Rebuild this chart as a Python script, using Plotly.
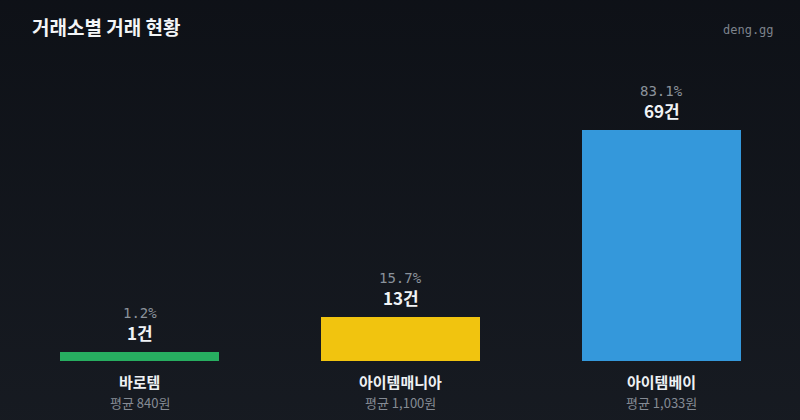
import base64

import plotly.graph_objects as go

# data
exchanges = ["바로템", "아이템매니아", "아이템베이"]
counts = [1, 13, 69]
shares = [1.2, 15.7, 83.1]
avg_prices = [840, 1100, 1033]
colors = ["#27ae60", "#f1c40f", "#3498db"]

TITLE = "거래소별 거래 현황"
SOURCE = "deng.gg"

KR = "Noto Sans CJK KR"
MONO = "DejaVu Sans Mono"
MIN_BAR = 2.7  # tiny counts still get a visible sliver


def gradient_uri():
    svg = (
        '<svg xmlns="http://www.w3.org/2000/svg" width="10" height="100" preserveAspectRatio="none">'
        '<defs><linearGradient id="g" x1="0" y1="0" x2="0" y2="1">'
        '<stop offset="0" stop-color="#0d1016"/><stop offset="1" stop-color="#171b22"/>'
        '</linearGradient></defs><rect width="10" height="100" fill="url(#g)"/></svg>'
    )
    return "data:image/svg+xml;base64," + base64.b64encode(svg.encode()).decode()


def main():
    heights = [max(c, MIN_BAR) for c in counts]

    fig = go.Figure(
        go.Bar(
            x=exchanges,
            y=heights,
            marker=dict(color=colors, line=dict(width=0)),
            width=0.61,
            hoverinfo="skip",
        )
    )

    for name, h, c, s, p in zip(exchanges, heights, counts, shares, avg_prices):
        fig.add_annotation(x=name, y=h, text=f"{c}건", showarrow=False,
                           yanchor="bottom", yshift=5,
                           font=dict(family=KR, size=17, color="#f0f3f6", weight="bold"))
        fig.add_annotation(x=name, y=h, text=f"{s}%", showarrow=False,
                           yanchor="bottom", yshift=29,
                           font=dict(family=MONO, size=14, color="#8b929b"))
        fig.add_annotation(x=name, y=0, text=name, showarrow=False,
                           yanchor="top", yshift=-8,
                           font=dict(family=KR, size=15, color="#eef1f4", weight="bold"))
        fig.add_annotation(x=name, y=0, text=f"평균 {p:,}원", showarrow=False,
                           yanchor="top", yshift=-30,
                           font=dict(family=KR, size=13, color="#858b94"))

    fig.add_annotation(xref="paper", yref="paper", x=0, y=1, xanchor="left", yanchor="middle",
                       xshift=21, yshift=67, text=TITLE, showarrow=False,
                       font=dict(family=KR, size=19, color="#f3f5f7", weight="bold"))
    fig.add_annotation(xref="paper", yref="paper", x=1, y=1, xanchor="right", yanchor="middle",
                       xshift=-16, yshift=63, text=SOURCE, showarrow=False,
                       font=dict(family=MONO, size=12, color="#7d838c"))

    fig.add_layout_image(source=gradient_uri(), xref="paper", yref="paper",
                         x=-0.02, y=1.5, sizex=1.05, sizey=1.8,
                         xanchor="left", yanchor="top", sizing="stretch", layer="below")

    fig.update_layout(
        width=800,
        height=420,
        margin=dict(l=9, r=8, t=93, b=59),
        paper_bgcolor="#12161d",
        plot_bgcolor="rgba(0,0,0,0)",
        showlegend=False,
        bargap=0,
        xaxis=dict(visible=False, range=[-0.5, 2.5], fixedrange=True),
        yaxis=dict(visible=False, range=[0, 80], fixedrange=True),
    )

    fig.write_html(
        "out.html",
        config={"displayModeBar": False},
        post_script="document.body.style.margin='0';document.body.style.background='#0d1016';",
    )


if __name__ == "__main__":
    main()
